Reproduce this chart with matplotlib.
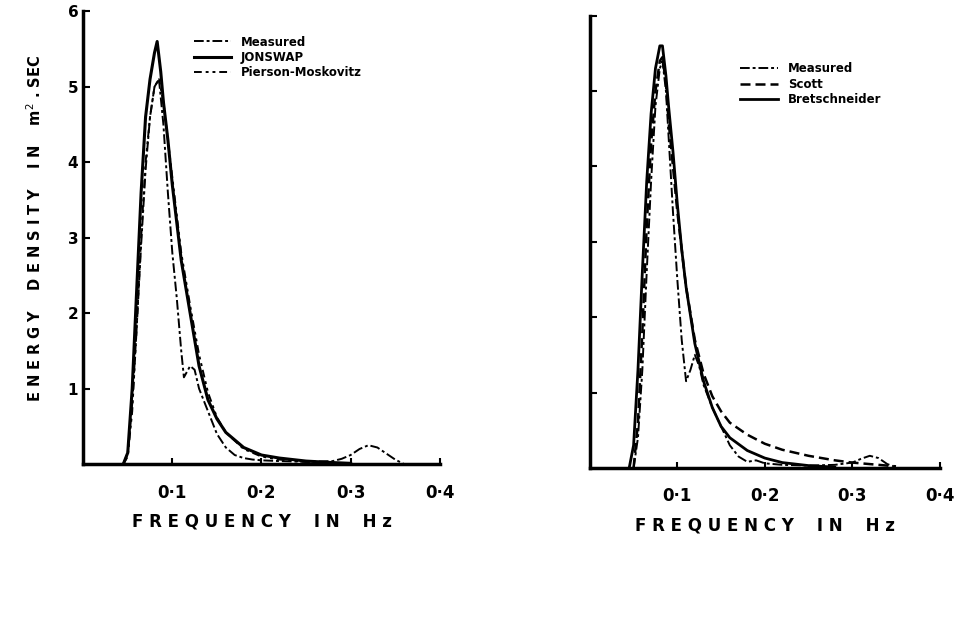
import matplotlib.pyplot as plt

# Left panel: measured vs JONSWAP vs Pierson-Moskowitz
f_meas_l = [0.045, 0.05, 0.055, 0.06, 0.065, 0.07, 0.075, 0.08, 0.085, 0.09, 0.095, 0.1,
            0.105, 0.11, 0.113, 0.12, 0.125, 0.13, 0.14, 0.15, 0.16, 0.17, 0.18, 0.19, 0.2,
            0.22, 0.25, 0.28, 0.29, 0.3, 0.31, 0.32, 0.33, 0.34, 0.35, 0.36]
e_meas_l = [0.0, 0.15, 0.8, 1.8, 2.9, 3.9, 4.6, 5.0, 5.1, 4.5, 3.6, 2.8,
            2.2, 1.5, 1.15, 1.3, 1.25, 1.0, 0.7, 0.4, 0.22, 0.12, 0.08, 0.06, 0.05,
            0.04, 0.03, 0.04, 0.07, 0.12, 0.2, 0.25, 0.22, 0.14, 0.06, 0.0]

f_jon = [0.045, 0.05, 0.055, 0.06, 0.065, 0.07, 0.075, 0.08, 0.083, 0.087, 0.09, 0.095,
         0.1, 0.105, 0.11, 0.12, 0.13, 0.14, 0.15, 0.16, 0.18, 0.2, 0.22, 0.25, 0.28, 0.3]
e_jon = [0.0, 0.15, 1.0, 2.3, 3.6, 4.6, 5.1, 5.45, 5.6, 5.2, 4.8, 4.3,
         3.7, 3.2, 2.7, 2.0, 1.3, 0.85, 0.6, 0.42, 0.22, 0.12, 0.08, 0.04, 0.02, 0.01]

f_pm = [0.045, 0.05, 0.055, 0.06, 0.065, 0.07, 0.075, 0.08, 0.085, 0.09, 0.095, 0.1,
        0.105, 0.11, 0.12, 0.13, 0.14, 0.15, 0.16, 0.18, 0.2, 0.22, 0.25, 0.28]
e_pm = [0.0, 0.1, 0.7, 1.8, 3.0, 4.0, 4.6, 5.0, 5.1, 4.8, 4.3, 3.8,
        3.3, 2.8, 2.1, 1.45, 0.95, 0.62, 0.42, 0.2, 0.1, 0.06, 0.03, 0.02]

# Right panel: measured vs Scott vs Bretschneider
f_meas_r = [0.05, 0.055, 0.06, 0.065, 0.07, 0.075, 0.08, 0.083, 0.087, 0.09, 0.095, 0.1,
            0.105, 0.11, 0.115, 0.12, 0.125, 0.13, 0.14, 0.15, 0.16, 0.17, 0.18, 0.19,
            0.2, 0.22, 0.25, 0.28, 0.3, 0.31, 0.32, 0.33, 0.34, 0.35]
e_meas_r = [0.0, 0.4, 1.3, 2.6, 3.8, 4.8, 5.3, 5.4, 5.0, 4.4, 3.4, 2.5,
            1.7, 1.15, 1.3, 1.5, 1.35, 1.1, 0.8, 0.55, 0.3, 0.15, 0.08, 0.1,
            0.06, 0.04, 0.03, 0.04, 0.07, 0.12, 0.16, 0.13, 0.05, 0.01]

f_scott = [0.05, 0.055, 0.06, 0.065, 0.07, 0.075, 0.08, 0.083, 0.087, 0.09, 0.095, 0.1,
           0.105, 0.11, 0.12, 0.13, 0.14, 0.15, 0.16, 0.18, 0.2, 0.22, 0.25, 0.28,
           0.3, 0.32, 0.34, 0.35]
e_scott = [0.0, 0.6, 1.8, 3.2, 4.3, 5.0, 5.4, 5.45, 5.1, 4.6, 4.0, 3.4,
           2.9, 2.4, 1.7, 1.25, 0.95, 0.75, 0.6, 0.44, 0.32, 0.24, 0.16, 0.1,
           0.07, 0.05, 0.03, 0.02]

f_bret = [0.045, 0.05, 0.055, 0.06, 0.065, 0.07, 0.075, 0.08, 0.083, 0.087, 0.09, 0.095,
          0.1, 0.105, 0.11, 0.12, 0.13, 0.14, 0.15, 0.16, 0.18, 0.2, 0.22, 0.25, 0.28]
e_bret = [0.0, 0.3, 1.3, 2.6, 3.8, 4.7, 5.3, 5.6, 5.6, 5.2, 4.8, 4.2,
          3.5, 2.9, 2.4, 1.65, 1.15, 0.8, 0.55, 0.4, 0.23, 0.13, 0.07, 0.03, 0.01]

x_ticks = [0.1, 0.2, 0.3, 0.4]
x_tick_labels = ['0·1', '0·2', '0·3', '0·4']
y_ticks = [1, 2, 3, 4, 5, 6]

fig = plt.figure(figsize=(9.56, 6.28), dpi=100)
ax1 = fig.add_axes([0.087, 0.261, 0.373, 0.721])
ax2 = fig.add_axes([0.617, 0.255, 0.366, 0.72])

meas_style = dict(color='black', lw=1.4, dashes=(5, 1.5, 1.5, 1.5))
pm_style = dict(color='black', lw=1.4, dashes=(4, 2, 1.5, 2, 1.5, 2))

ax1.plot(f_meas_l, e_meas_l, label='Measured', **meas_style)
ax1.plot(f_jon, e_jon, color='black', lw=2.2, label='JONSWAP')
ax1.plot(f_pm, e_pm, label='Pierson-Moskovitz', **pm_style)

ax2.plot(f_meas_r, e_meas_r, label='Measured', **meas_style)
ax2.plot(f_scott, e_scott, color='black', lw=1.8, dashes=(4, 2), label='Scott')
ax2.plot(f_bret, e_bret, color='black', lw=2.0, label='Bretschneider')

for ax in (ax1, ax2):
    ax.set_xlim(0, 0.4)
    ax.set_ylim(0, 6)
    ax.spines['top'].set_visible(False)
    ax.spines['right'].set_visible(False)
    ax.spines['left'].set_linewidth(2.5)
    ax.spines['bottom'].set_linewidth(2.5)
    ax.set_xticks(x_ticks)
    ax.set_xticklabels(x_tick_labels, fontsize=12, fontweight='bold')
    ax.set_yticks(y_ticks)
    ax.tick_params(axis='y', direction='in', length=5, width=1.5)
    ax.tick_params(axis='x', direction='in', length=4, width=1.5, pad=14)
    ax.set_xlabel('F R E Q U E N C Y    I N    H z', fontsize=12, fontweight='bold',
                  labelpad=8)

ax1.set_yticklabels([str(v) for v in y_ticks], fontsize=11, fontweight='bold')
ax2.set_yticklabels([])
ax1.set_ylabel('E N E R G Y    D E N S I T Y    I N    m$^2$ . SEC', fontsize=10.5,
               fontweight='bold')
ax1.yaxis.set_label_coords(-0.11, 0.52)

ax1.legend(loc='upper left', bbox_to_anchor=(0.28, 0.97), frameon=False,
           handlelength=3.2, prop={'weight': 'bold', 'size': 8.5}, labelspacing=0.2)
ax2.legend(loc='upper left', bbox_to_anchor=(0.4, 0.92), frameon=False,
           handlelength=3.2, prop={'weight': 'bold', 'size': 8.5}, labelspacing=0.2)

plt.savefig('out.png', dpi=100)
